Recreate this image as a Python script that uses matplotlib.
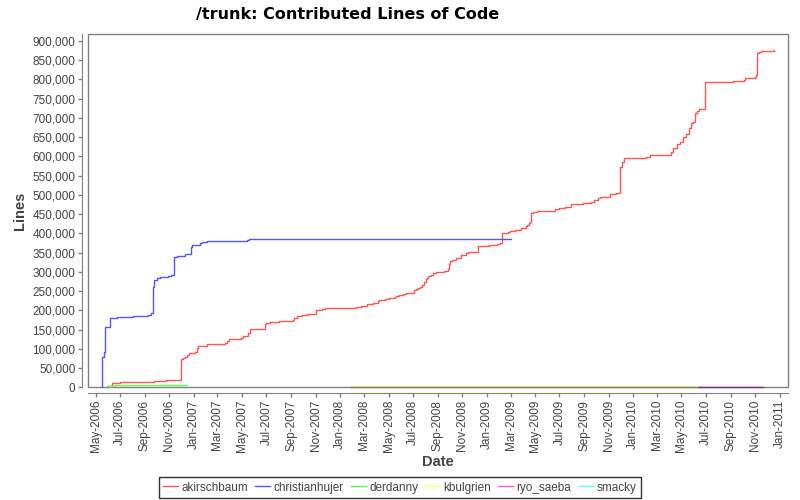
# contributed lines of code per developer over time (step chart)

import numpy as np
import pandas as pd
import matplotlib
matplotlib.use("Agg")
import matplotlib.pyplot as plt
import matplotlib.dates as mdates
from matplotlib.lines import Line2D
from matplotlib.patches import Rectangle
from matplotlib.ticker import FuncFormatter

plt.rcParams['font.family'] = ['Liberation Sans', 'DejaVu Sans']
plt.rcParams['font.style'] = 'normal'

akirschbaum_dates = [
    "2006-05-30", "2006-05-30", "2006-06-11", "2006-07-01", "2006-09-23", "2006-10-23",
    "2006-12-01", "2006-12-06", "2006-12-11", "2006-12-16", "2006-12-21", "2007-01-05",
    "2007-01-08", "2007-01-12", "2007-01-20", "2007-02-04", "2007-03-21", "2007-03-25",
    "2007-03-30", "2007-04-28", "2007-05-03", "2007-05-16", "2007-05-20", "2007-06-28",
    "2007-06-30", "2007-07-09", "2007-08-02", "2007-09-06", "2007-09-09", "2007-09-15",
    "2007-09-29", "2007-10-11", "2007-11-01", "2007-11-02", "2007-11-16", "2007-11-24",
    "2008-02-10", "2008-02-23", "2008-03-07", "2008-03-08", "2008-03-24", "2008-04-05",
    "2008-04-07", "2008-04-22", "2008-05-03", "2008-05-16", "2008-05-19", "2008-05-27",
    "2008-06-07", "2008-06-14", "2008-07-04", "2008-07-07", "2008-07-13", "2008-07-19",
    "2008-07-24", "2008-07-27", "2008-07-29", "2008-08-01", "2008-08-04", "2008-08-08",
    "2008-08-14", "2008-08-19", "2008-08-27", "2008-09-17", "2008-09-25", "2008-09-29",
    "2008-10-02", "2008-10-05", "2008-10-16", "2008-10-29", "2008-11-10", "2008-11-15",
    "2008-12-11", "2009-01-07", "2009-01-27", "2009-02-04", "2009-02-08", "2009-02-23",
    "2009-02-28", "2009-03-13", "2009-03-28", "2009-04-09", "2009-04-12", "2009-04-15",
    "2009-04-19", "2009-04-22", "2009-04-25", "2009-05-07", "2009-06-19", "2009-07-01",
    "2009-07-16", "2009-07-31", "2009-08-29", "2009-09-19", "2009-09-26", "2009-10-04",
    "2009-10-11", "2009-11-03", "2009-11-05", "2009-11-18", "2009-11-28", "2009-11-30",
    "2009-12-03", "2009-12-05", "2009-12-10", "2010-02-01", "2010-02-11", "2010-04-06",
    "2010-04-11", "2010-04-21", "2010-04-29", "2010-05-06", "2010-05-14", "2010-05-21",
    "2010-05-24", "2010-05-29", "2010-06-03", "2010-06-05", "2010-06-08", "2010-06-13",
    "2010-06-28", "2010-06-30", "2010-09-08", "2010-10-05", "2010-10-08", "2010-11-02",
    "2010-11-04", "2010-11-07", "2010-11-10", "2010-11-17", "2010-12-19",
]
akirschbaum_lines = [
    0, 3000, 11000, 14000, 16000, 18000,
    73000, 75000, 78000, 83000, 89000, 92000,
    101000, 106000, 108000, 112000, 115000, 120000,
    126000, 128000, 132000, 140000, 152000, 164000,
    166000, 169000, 171000, 175000, 180000, 184500,
    187000, 190000, 195700, 200000, 202600, 206000,
    208700, 211000, 214000, 216500, 219000, 223500,
    227000, 229500, 233000, 235500, 237000, 240700,
    243000, 245000, 252000, 254700, 258000, 260600,
    266000, 270000, 274000, 280700, 284000, 289000,
    291800, 296000, 299600, 303000, 306600, 320000,
    328000, 330800, 335000, 343800, 348000, 351600,
    367000, 369800, 372400, 375800, 401000, 403600,
    406000, 408800, 413000, 419000, 422600, 426000,
    429600, 453800, 455500, 457300, 462500, 465000,
    468500, 475500, 478000, 481600, 486800, 491000,
    493800, 499700, 502000, 504000, 566500, 573000,
    578500, 584700, 595800, 598400, 603000, 610700,
    621000, 631500, 636700, 649700, 657500, 673000,
    686000, 690000, 697000, 712000, 717000, 722000,
    725000, 792600, 795000, 797800, 803000, 805600,
    810800, 868000, 870600, 873000, 875800,
]

christianhujer_dates = [
    "2006-05-17", "2006-05-17", "2006-05-22", "2006-05-25", "2006-06-05", "2006-06-24",
    "2006-08-03", "2006-09-09", "2006-09-16", "2006-09-21", "2006-09-23", "2006-10-02",
    "2006-10-09", "2006-10-29", "2006-11-05", "2006-11-13", "2006-11-19", "2006-12-10",
    "2006-12-25", "2006-12-28", "2007-01-16", "2007-01-21", "2007-02-02", "2007-05-13",
    "2007-05-19", "2009-03-02",
]
christianhujer_lines = [
    0, 78000, 91000, 156000, 179000, 182000,
    186000, 188000, 193000, 260000, 279000, 283000,
    286000, 288000, 291000, 339000, 342000, 345000,
    364000, 370000, 374000, 377000, 380000, 383000,
    385000, 385000,
]

derdanny_dates = ["2006-05-31", "2006-05-31", "2006-06-15", "2006-12-16"]
derdanny_lines = [0, 2500, 5000, 5000]

kbulgrien_dates = ["2008-01-28", "2010-06-15"]
kbulgrien_lines = [0, 0]

ryo_saeba_dates = ["2010-06-15", "2010-11-21"]
ryo_saeba_lines = [0, 0]

smacky_dates = []
smacky_lines = []

authors = ["akirschbaum", "christianhujer", "derdanny", "kbulgrien", "ryo_saeba", "smacky"]
colors = ["#ff5555", "#5555ff", "#55ff55", "#ffff55", "#ff55ff", "#55ffff"]
# lines lying on the grey plot border look darker in the original
drawn_colors = ["#ff5555", "#5555ff", "#55ff55", "#8a8a20", "#8a2a8a", "#55ffff"]
series = [
    (akirschbaum_dates, akirschbaum_lines),
    (christianhujer_dates, christianhujer_lines),
    (derdanny_dates, derdanny_lines),
    (kbulgrien_dates, kbulgrien_lines),
    (ryo_saeba_dates, ryo_saeba_lines),
    (smacky_dates, smacky_lines),
]

fig = plt.figure(figsize=(8, 5), dpi=100)
ax = fig.add_axes([0.11, 0.2254, 0.8754, 0.706])

for (d, v), c in zip(series, drawn_colors):
    if len(d) == 0:
        continue
    ax.step(pd.to_datetime(d), v, where='post', color=c, lw=1.0,
            clip_on=False, zorder=5)

ax.set_xlim(pd.Timestamp("2006-04-12"), pd.Timestamp("2011-01-23"))
ax.set_ylim(0, 917000)

ax.xaxis.set_major_locator(mdates.MonthLocator(bymonth=[1, 3, 5, 7, 9, 11]))
ax.xaxis.set_major_formatter(mdates.DateFormatter("%b-%Y"))
ax.yaxis.set_major_locator(plt.MultipleLocator(50000))
ax.yaxis.set_major_formatter(FuncFormatter(lambda v, p: f"{int(v):,}"))

ax.tick_params(axis='both', labelsize=8.5, colors='#808080', labelcolor='#444444',
               length=3, width=1, direction='out', pad=2)
ax.tick_params(axis='x', labelrotation=90)

for s in ['top', 'right']:
    ax.spines[s].set_visible(False)
for s in ['left', 'bottom']:
    ax.spines[s].set_position(('outward', 4))
    ax.spines[s].set_color('#808080')

border = Rectangle((0, 0), 1, 1, transform=ax.transAxes, fill=False,
                   edgecolor='#808080', lw=1.0, zorder=4, clip_on=False)
ax.add_patch(border)

ax.set_xlabel("Date", fontsize=10.5, fontweight='bold', color='#444444', labelpad=2)
ax.set_ylabel("Lines", fontsize=10.5, fontweight='bold', color='#444444', labelpad=4)
fig.text(0.435, 0.97, "/trunk: Contributed Lines of Code", ha='center', va='center',
         fontsize=11.5, fontweight='bold', fontstyle='normal',
         family=['DejaVu Sans'])

handles = [Line2D([], [], color=c, lw=1.0) for c in colors]
leg = fig.legend(handles, authors, loc='lower center', bbox_to_anchor=(0.5, -0.006),
                 ncol=6, fontsize=8.5, frameon=True, fancybox=False,
                 handlelength=1.25, handletextpad=0.3, columnspacing=0.6,
                 borderpad=0.4, borderaxespad=0.4, labelcolor='#444444')
leg.get_frame().set_edgecolor('black')
leg.get_frame().set_linewidth(1.0)

fig.savefig("out.png", dpi=100)
